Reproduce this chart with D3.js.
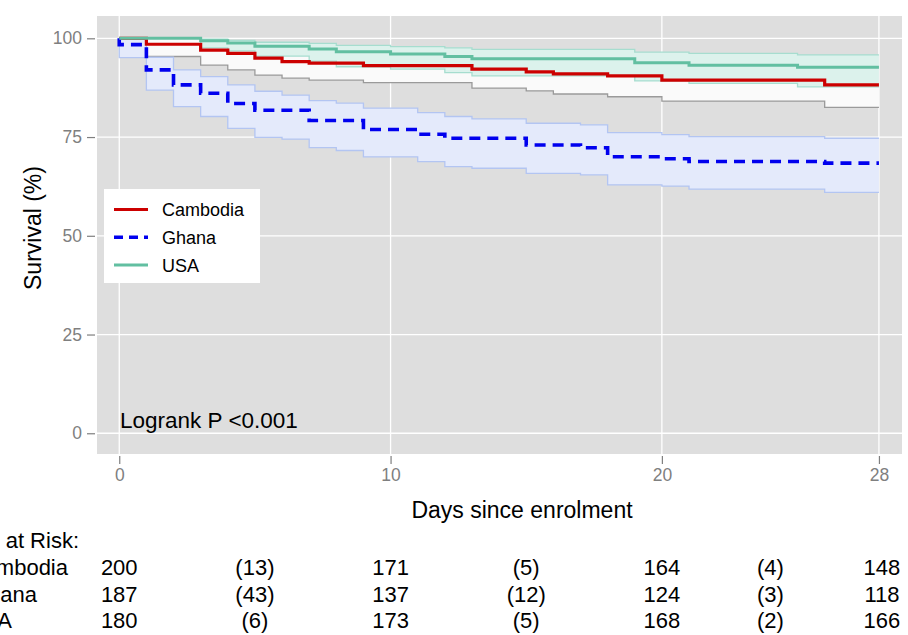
<!DOCTYPE html>
<html>
<head>
<meta charset="utf-8">
<script src="https://cdn.jsdelivr.net/npm/d3@7"></script>
<style>
  html, body { margin: 0; padding: 0; background: #fff; }
  svg { display: block; font-family: "Liberation Sans", Arial, Helvetica, sans-serif; }
</style>
</head>
<body>
<div id="chart"></div>
<script>
// =============================================================================
// Data (Kaplan-Meier steps, % surviving)
// =============================================================================
const cambodiaDays  = [0, 1, 3, 4, 5, 6, 7, 9, 13, 15, 16, 18, 20, 26, 28];
const cambodiaSurv  = [100, 98.5, 97.0, 96.2, 95.0, 94.1, 93.7, 93.1, 92.2, 91.5, 91.0, 90.5, 89.4, 88.2, 88.2];
const cambodiaLower = [100, 95.4, 93.2, 92.0, 90.7, 89.9, 89.4, 88.8, 87.4, 86.7, 85.9, 85.2, 84.1, 82.5, 82.5];
const cambodiaUpper = [100, 99.8, 99.2, 98.9, 98.0, 97.4, 97.0, 96.5, 95.8, 95.3, 94.9, 94.5, 93.6, 92.6, 92.6];

const ghanaDays  = [0, 0, 1, 2, 3, 4, 5, 6, 7, 8, 9, 11, 12, 13, 15, 17, 18, 20, 21, 26, 28];
const ghanaSurv  = [100, 98.4, 92.0, 88.2, 86.1, 83.5, 81.8, 81.8, 79.2, 79.2, 76.9, 75.7, 74.7, 74.7, 73.0, 72.3, 70.0, 69.5, 68.8, 68.4, 68.4];
const ghanaLower = [100, 95.1, 86.9, 82.7, 80.2, 77.2, 74.9, 74.5, 72.3, 71.6, 70.0, 68.8, 67.5, 67.1, 65.8, 65.4, 62.9, 62.6, 61.8, 61.0, 61.0];
const ghanaUpper = [100, 100, 95.2, 92.0, 90.3, 88.2, 86.6, 85.6, 84.2, 83.6, 82.3, 81.2, 80.2, 79.6, 78.5, 78.1, 76.1, 75.6, 75.1, 74.7, 74.7];

const usaDays  = [0, 3, 4, 5, 7, 8, 10, 12, 13, 19, 21, 25, 28];
const usaSurv  = [100, 99.4, 98.8, 98.0, 97.3, 96.6, 96.0, 95.4, 94.8, 93.8, 93.2, 92.7, 92.7];
const usaLower = [100, 97.6, 96.8, 95.5, 94.2, 92.8, 92.2, 91.3, 90.5, 89.2, 88.6, 87.7, 87.7];
const usaUpper = [100, 99.8, 99.5, 99.0, 98.7, 98.2, 97.9, 97.6, 97.2, 96.5, 96.2, 95.8, 95.8];

// Numbers at risk table
const riskDays = [0, 5, 10, 15, 20, 24, 28];
const riskCambodia = ['200', '(13)', '171', '(5)', '164', '(4)', '148'];
const riskGhana    = ['187', '(43)', '137', '(12)', '124', '(3)', '118'];
const riskUSA      = ['180', '(6)', '173', '(5)', '168', '(2)', '166'];

const xTicks = [0, 10, 20, 28];
const yTicks = [0, 25, 50, 75, 100];

// =============================================================================
// Visual Configuration
// =============================================================================
const PANEL_BG = '#DEDEDE';
const TICK_GREY = '#7F7F7F';

const series = [
    { name: 'Cambodia', days: cambodiaDays, surv: cambodiaSurv, lower: cambodiaLower, upper: cambodiaUpper,
      color: '#CC0000', width: 3.2, dash: null,
      bandFill: '#FAFAFA', bandLine: '#9A9A9A', bandEdges: ['lower'], risk: riskCambodia, labelEnd: 68 },
    { name: 'Ghana', days: ghanaDays, surv: ghanaSurv, lower: ghanaLower, upper: ghanaUpper,
      color: '#0000EE', width: 3.6, dash: '11,7',
      bandFill: '#E4EAFB', bandLine: '#B3C5F2', bandEdges: ['lower', 'upper'], risk: riskGhana, labelEnd: 37 },
    { name: 'USA', days: usaDays, surv: usaSurv, lower: usaLower, upper: usaUpper,
      color: '#62BFA1', width: 3, dash: null,
      bandFill: '#DCF2EC', bandLine: '#A6DDCF', bandEdges: ['lower', 'upper'], risk: riskUSA, labelEnd: 12 }
];

const W = 908, H = 635;
const panel = { left: 97, right: 902, top: 16, bottom: 454 };

const svg = d3.select('#chart')
    .append('svg')
    .attr('width', W)
    .attr('height', H);

// Scales (domain includes ggplot-style padding around the data)
const x = d3.scaleLinear().domain([-0.82, 28.85]).range([panel.left, panel.right]);
const y = d3.scaleLinear().domain([-5.25, 105.65]).range([panel.bottom, panel.top]);

// Panel background + grid
svg.append('rect')
    .attr('x', panel.left).attr('y', panel.top)
    .attr('width', panel.right - panel.left)
    .attr('height', panel.bottom - panel.top)
    .attr('fill', PANEL_BG);

const grid = svg.append('g');
grid.selectAll('line.gy').data(yTicks).enter().append('line')
    .attr('x1', panel.left).attr('x2', panel.right)
    .attr('y1', d => y(d)).attr('y2', d => y(d))
    .attr('stroke', '#fff').attr('stroke-width', 1.3);
grid.selectAll('line.gx').data(xTicks).enter().append('line')
    .attr('y1', panel.top).attr('y2', panel.bottom)
    .attr('x1', d => x(d)).attr('x2', d => x(d))
    .attr('stroke', '#fff').attr('stroke-width', 1.3);

// Confidence ribbons
const band = d3.area()
    .curve(d3.curveStepAfter)
    .x(d => x(d.t))
    .y0(d => y(d.lo))
    .y1(d => y(d.hi));

const edge = key => d3.line()
    .curve(d3.curveStepAfter)
    .x(d => x(d.t))
    .y(d => y(d[key]));

series.forEach(s => {
    s.points = s.days.map((t, i) => ({ t, s: s.surv[i], lo: s.lower[i], hi: s.upper[i] }));
});

const bands = svg.append('g');
series.forEach(s => {
    bands.append('path')
        .datum(s.points)
        .attr('d', band)
        .attr('fill', s.bandFill);
    s.bandEdges.forEach(k => {
        bands.append('path')
            .datum(s.points)
            .attr('d', edge(k === 'lower' ? 'lo' : 'hi'))
            .attr('fill', 'none')
            .attr('stroke', s.bandLine)
            .attr('stroke-width', 1.3);
    });
});

// Survival curves
const lines = svg.append('g');
series.forEach(s => {
    lines.append('path')
        .datum(s.points)
        .attr('d', edge('s'))
        .attr('fill', 'none')
        .attr('stroke', s.color)
        .attr('stroke-width', s.width)
        .attr('stroke-dasharray', s.dash);
});

// Axes (ggplot look: grey ticks, no domain line)
const yAxis = svg.append('g')
    .attr('transform', `translate(${panel.left - 2},0)`)
    .call(d3.axisLeft(y).tickValues(yTicks).tickSize(8).tickPadding(5));
const xAxis = svg.append('g')
    .attr('transform', `translate(0,${panel.bottom + 2})`)
    .call(d3.axisBottom(x).tickValues(xTicks).tickSize(8).tickPadding(5));

[yAxis, xAxis].forEach(a => {
    a.select('.domain').remove();
    a.selectAll('line').attr('stroke', TICK_GREY).attr('stroke-width', 1.2);
    a.selectAll('text')
        .attr('fill', TICK_GREY)
        .style('font-size', '17.5px')
        .style('font-family', '"Liberation Sans", Arial, sans-serif');
});

// Axis titles
svg.append('text')
    .attr('transform', 'translate(41,228) rotate(-90)')
    .attr('text-anchor', 'middle')
    .attr('font-size', '23px')
    .text('Survival (%)');

svg.append('text')
    .attr('x', 522)
    .attr('y', 518)
    .attr('text-anchor', 'middle')
    .attr('font-size', '23px')
    .text('Days since enrolment');

// Logrank annotation
svg.append('text')
    .attr('x', 120)
    .attr('y', 428)
    .attr('font-size', '22.5px')
    .text('Logrank P <0.001');

// Legend
const legend = svg.append('g');
legend.append('rect')
    .attr('x', 104).attr('y', 189)
    .attr('width', 156).attr('height', 94)
    .attr('fill', '#fff');

const legendRows = legend.selectAll('g.row')
    .data(series)
    .enter()
    .append('g')
    .attr('transform', (d, i) => `translate(0,${209.5 + i * 27.8})`);

legendRows.append('line')
    .attr('x1', 114).attr('x2', 148)
    .attr('stroke', d => d.color)
    .attr('stroke-width', d => d.width)
    .attr('stroke-dasharray', d => d.dash ? '9,6' : null);

legendRows.append('text')
    .attr('x', 162)
    .attr('dy', '0.36em')
    .attr('font-size', '18px')
    .text(d => d.name);

// Numbers at risk table (cut off at the left, as in the source figure)
svg.append('text')
    .attr('x', 79)
    .attr('y', 548)
    .attr('text-anchor', 'end')
    .attr('font-size', '22px')
    .text('Numbers at Risk:');

series.forEach((s, i) => {
    const rowY = 575 + i * 26.5;
    svg.append('text')
        .attr('x', s.labelEnd)
        .attr('y', rowY)
        .attr('text-anchor', 'end')
        .attr('font-size', '22px')
        .text(s.name);

    svg.selectAll(null)
        .data(s.risk)
        .enter()
        .append('text')
        .attr('x', (d, j) => x(riskDays[j]) + (j === riskDays.length - 1 ? 3 : 0))
        .attr('y', rowY)
        .attr('text-anchor', 'middle')
        .attr('font-size', '22px')
        .text(d => d);
});
</script>
</body>
</html>
